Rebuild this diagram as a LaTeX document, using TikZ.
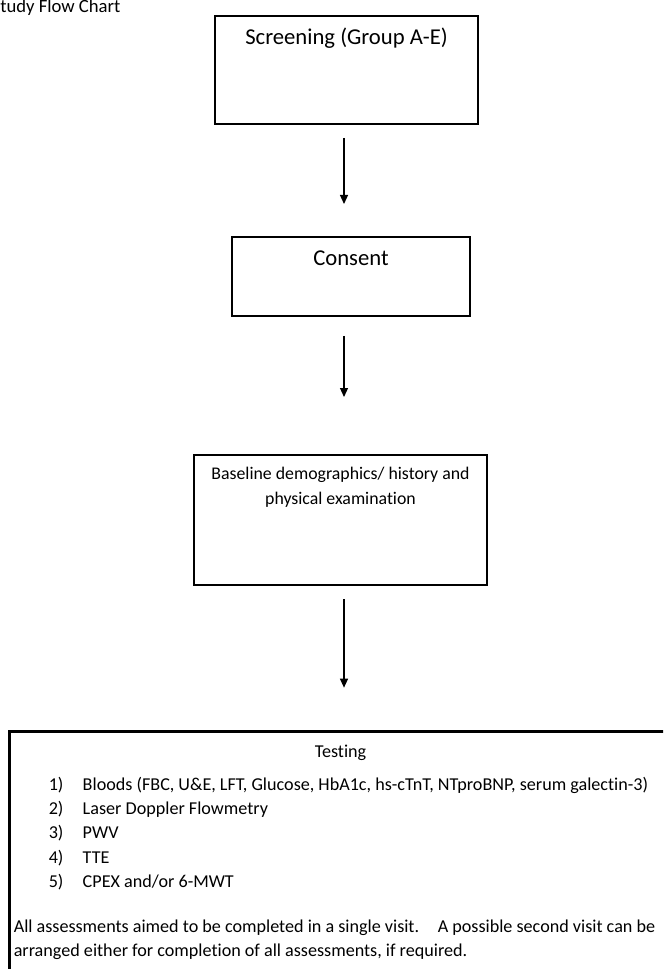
\documentclass[tikz,border=0pt]{standalone}
\usepackage{fontspec}
\setmainfont{Carlito}[Ligatures=NoCommon]
\usetikzlibrary{arrows.meta,positioning}

\begin{document}
\begin{tikzpicture}[
  x=0.75pt, y=-0.75pt,
  every node/.style={font=\fontsize{13.35}{18.75}\selectfont, inner sep=0pt},
  box/.style={draw=black, line width=2pt, outer sep=0pt, align=center},
  bigtext/.style={font=\fontsize{17}{21}\selectfont},
  listtext/.style={font=\fontsize{13.6}{18.15}\selectfont},
  arrow/.style={-{Triangle[width=6pt, length=6.75pt]}, line width=0.9pt}
]
  \path[use as bounding box, clip] (0,0) rectangle (663,969);

  % Nodes
  \node (title) [anchor=base west, font=\fontsize{14}{17}\selectfont] at (0,13) {tudy Flow Chart};
  \node (screen) [box, bigtext, minimum width=197.25pt, text height=21.75pt, text depth=59.25pt] at (346.5,70) {Screening (Group A-E)};
  \node (consent) [box, bigtext, minimum width=178.5pt, text height=21.75pt, text depth=37.5pt, below=84.75pt of screen, xshift=3.375pt] {Consent};
  \node (baseline) [box, minimum width=219.75pt, text height=36.75pt, text depth=60.75pt, below=104.25pt of consent, xshift=-7.875pt] {Baseline demographics/ history and\\physical examination};
  \node (testing) [box, minimum width=496.5pt, minimum height=210pt, below=110pt of baseline] {};

  % Testing box contents
  \node (testhead) [listtext, anchor=base] at ([yshift=-19.5pt]testing.north) {Testing};
  \node (testlist) [listtext, anchor=north west, align=left] at ([xshift=29.25pt, yshift=-34pt]testing.north west)
    {\makebox[25.5pt][l]{1)}Bloods (FBC, U\&E, LFT, Glucose, HbA1c, hs-cTnT, NTproBNP, serum galectin-3)\\
     \makebox[25.5pt][l]{2)}Laser Doppler Flowmetry\\
     \makebox[25.5pt][l]{3)}PWV\\
     \makebox[25.5pt][l]{4)}TTE\\
     \makebox[25.5pt][l]{5)}CPEX and/or 6-MWT};
  \node (testnote) [listtext, anchor=north west, align=left] at ([xshift=3pt, yshift=-141pt]testing.north west)
    {All assessments aimed to be completed in a single visit.\hspace{14pt}A possible second visit can be\\
     arranged either for completion of all assessments, if required.};

  % Paths
  \coordinate (axis) at (344,0);
  \draw [arrow, shorten <=10.5pt, shorten >=24.75pt] (screen.south -| axis) -- (consent.north -| axis);
  \draw [arrow, shorten <=15pt, shorten >=43.5pt] (consent.south -| axis) -- (baseline.north -| axis);
  \draw [arrow, shorten <=10.5pt, shorten >=33pt] (baseline.south -| axis) -- (testing.north -| axis);
\end{tikzpicture}
\end{document}
